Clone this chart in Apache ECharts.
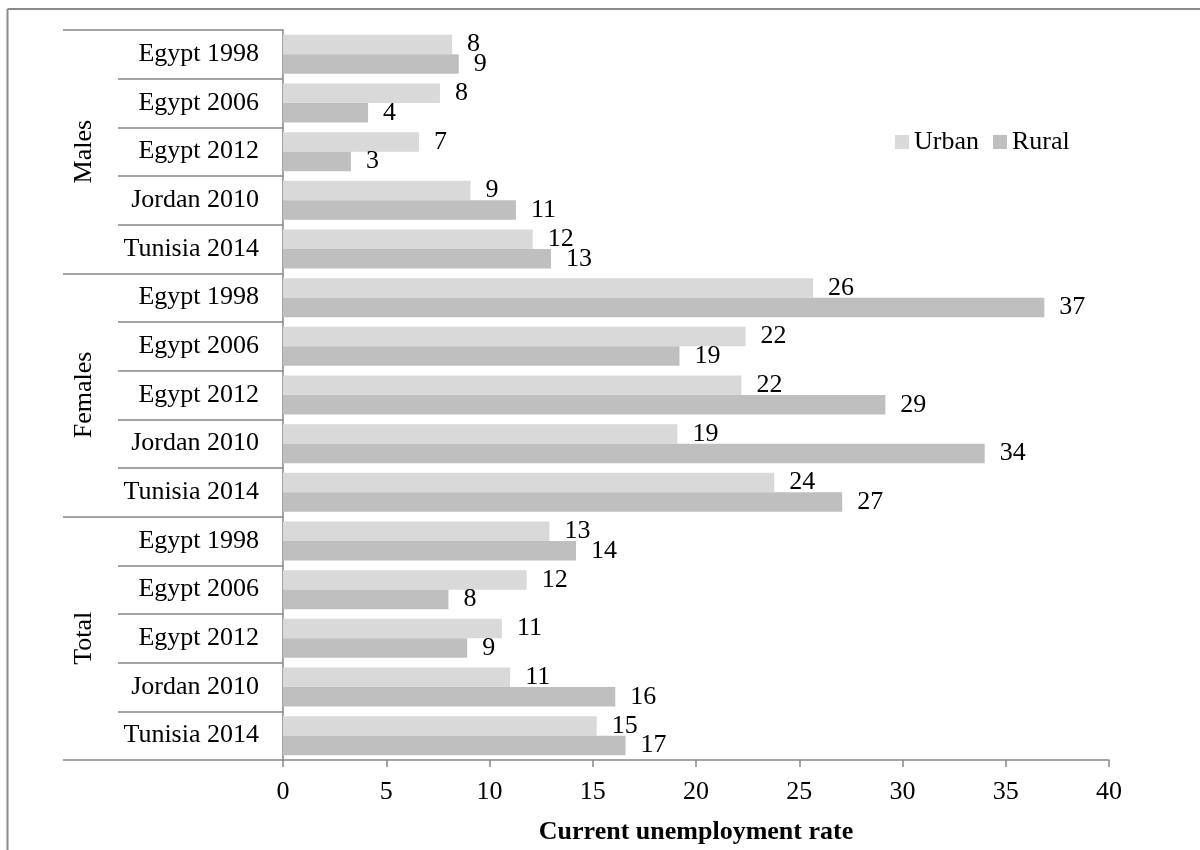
<!DOCTYPE html>
<html>
<head>
<meta charset="utf-8">
<script src="https://cdn.jsdelivr.net/npm/echarts@6/dist/echarts.min.js"></script>
<style>
  html, body { margin: 0; padding: 0; background: #fff; }
  #chart { width: 1200px; height: 850px; }
</style>
</head>
<body>
<div id="chart"></div>
<script>
// Population groups and survey rounds (top to bottom)
const groups = ['Males', 'Females', 'Total'];
const places = ['Egypt 1998', 'Egypt 2006', 'Egypt 2012', 'Jordan 2010', 'Tunisia 2014'];

// Current unemployment rate (%), one value per group x survey round
const urbanMales   = [8.19, 7.6, 6.58, 9.08, 12.09];
const ruralMales   = [8.51, 4.12, 3.29, 11.28, 12.98];
const urbanFemales = [25.67, 22.4, 22.2, 19.1, 23.79];
const ruralFemales = [36.87, 19.2, 29.17, 33.98, 27.08];
const urbanTotal   = [12.9, 11.8, 10.6, 11.0, 15.19];
const ruralTotal   = [14.19, 8.01, 8.92, 16.09, 16.59];

const xMin = 0, xMax = 40, xStep = 5;

const urban = [].concat(urbanMales, urbanFemales, urbanTotal);
const rural = [].concat(ruralMales, ruralFemales, ruralTotal);
const rowKeys = [];
groups.forEach(g => places.forEach(p => rowKeys.push(g + '|' + p)));

const FONT = '"Liberation Serif", "Times New Roman", serif';
const AXIS_GRAY = '#868686';

const chart = echarts.init(document.getElementById('chart'), null, { renderer: 'canvas' });

const valueLabel = {
  show: true,
  position: 'right',
  distance: 15,
  fontFamily: FONT,
  fontSize: 26,
  color: '#000',
  formatter: p => String(Math.round(p.value))
};

chart.setOption({
  animation: false,
  backgroundColor: '#fff',
  textStyle: { fontFamily: FONT },
  graphic: [
    { type: 'line', shape: { x1: 7.5, y1: 9, x2: 1200, y2: 9 }, style: { stroke: '#8a8a8a', lineWidth: 2 } },
    { type: 'line', shape: { x1: 7.5, y1: 9, x2: 7.5, y2: 850 }, style: { stroke: '#8a8a8a', lineWidth: 2 } }
  ],
  legend: {
    data: ['Urban', 'Rural'],
    left: 895,
    top: 129,
    padding: 0,
    icon: 'rect',
    itemWidth: 14,
    itemHeight: 14,
    itemGap: 14,
    textStyle: { fontFamily: FONT, fontSize: 26, color: '#000', lineHeight: 26 }
  },
  grid: { left: 283, right: 91, top: 30, bottom: 90, containLabel: false },
  xAxis: {
    type: 'value',
    min: xMin,
    max: xMax,
    interval: xStep,
    splitLine: { show: false },
    axisLine: { show: true, lineStyle: { color: AXIS_GRAY, width: 1.5 } },
    axisTick: { show: true, length: 7, lineStyle: { color: AXIS_GRAY, width: 1.5 } },
    axisLabel: { fontFamily: FONT, fontSize: 26, color: '#000', margin: 19 },
    name: 'Current unemployment rate',
    nameLocation: 'middle',
    nameGap: 59,
    nameTextStyle: { fontFamily: FONT, fontSize: 26, fontWeight: 'bold', color: '#000' }
  },
  yAxis: [
    {
      type: 'category',
      data: rowKeys,
      inverse: true,
      axisLine: { show: true, lineStyle: { color: AXIS_GRAY, width: 1.5 } },
      axisTick: { show: true, interval: 0, length: 165, lineStyle: { color: AXIS_GRAY, width: 1.5 } },
      axisLabel: {
        interval: 0,
        margin: 24,
        fontFamily: FONT,
        fontSize: 26,
        color: '#000',
        formatter: v => v.split('|')[1]
      }
    },
    {
      type: 'category',
      data: groups,
      inverse: true,
      position: 'left',
      axisLine: { show: false },
      axisTick: { show: true, interval: 0, length: 220, lineStyle: { color: AXIS_GRAY, width: 1.5 } },
      axisLabel: {
        interval: 0,
        rotate: 90,
        margin: 186,
        fontFamily: FONT,
        fontSize: 26,
        color: '#000'
      }
    }
  ],
  series: [
    {
      name: 'Urban',
      type: 'bar',
      yAxisIndex: 0,
      data: urban,
      barGap: '0%',
      barCategoryGap: '20%',
      itemStyle: { color: '#D9D9D9' },
      label: valueLabel
    },
    {
      name: 'Rural',
      type: 'bar',
      yAxisIndex: 0,
      data: rural,
      barGap: '0%',
      barCategoryGap: '20%',
      itemStyle: { color: '#BFBFBF' },
      label: valueLabel
    }
  ]
});
</script>
</body>
</html>
